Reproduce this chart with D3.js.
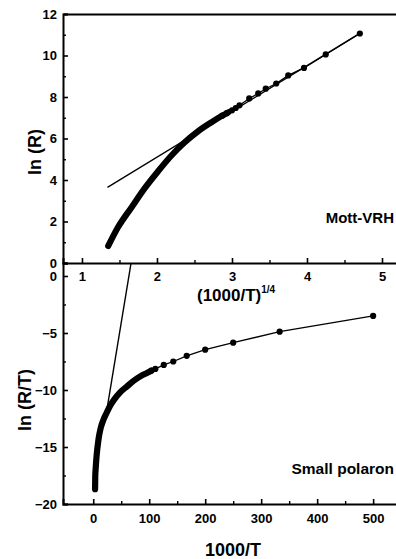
<!DOCTYPE html>
<html><head><meta charset="utf-8">
<script src="https://cdn.jsdelivr.net/npm/d3@7"></script>
<style>
body{margin:0;background:#fff;}
svg{display:block;font-family:"Liberation Sans",Arial,sans-serif;font-weight:bold;}
</style></head>
<body><svg id="c" width="396" height="559"></svg>
<script>
// ---- data ----
// top panel: ln(R) vs (1000/T)^(1/4)
const topDenseX = [1.35,1.48,1.66,1.84,2.01,2.19,2.37,2.54,2.72,2.87,2.95];
const topDenseY = [0.82,1.72,2.68,3.62,4.40,5.17,5.82,6.33,6.77,7.10,7.26];
const topDotX = [2.87,2.93,3.00,3.05,3.10,3.23,3.35,3.45,3.59,3.75,3.96,4.25,4.705];
const topDotY = [7.10,7.22,7.36,7.47,7.60,7.93,8.17,8.40,8.65,9.04,9.40,10.05,11.06];
const topFitX = [1.34,4.72];
const topFitY = [3.64,11.10];
// bottom panel: ln(R/T) vs 1000/T
const botDenseX = [3.3,3.6,4.5,6.0,9.5,13.5,18.4,24,30,38,48,60,72,84,96,104];
const botDenseY = [-18.7,-17.6,-16.8,-15.8,-14.3,-13.3,-12.6,-12.0,-11.4,-10.8,-10.2,-9.7,-9.2,-8.8,-8.5,-8.3];
const botDotX = [104,111,126,143,167,200,250,333,500];
const botDotY = [-8.3,-8.15,-7.8,-7.5,-7.0,-6.46,-5.85,-4.88,-3.5];
const botFitX = [22,70];
const botFitY = [-12.45,1.86];
// ticks
const topXTicks = [1,2,3,4,5];
const topXMinor = [1.5,2.5,3.5,4.5];
const topYTicks = [0,2,4,6,8,10,12];
const topYMinor = [1,3,5,7,9,11];
const botXTicks = [0,100,200,300,400,500];
const botXMinor = [50,150,250,350,450];
const botYTicks = [0,-5,-10,-15,-20];
const botYMinor = [-2.5,-7.5,-12.5,-17.5];

const svg = d3.select("#c");
const L = 63, R = 400, T1 = 14, MID = 263, B2 = 504;

const xTop = d3.scaleLinear().domain([0.747,5.24]).range([L,R]);
const yTop = d3.scaleLinear().domain([0,12]).range([MID,T1]);
const xBot = d3.scaleLinear().domain([-54,548]).range([L,R]);
const yBot = d3.scaleLinear().domain([-20,1.14]).range([B2,MID]);

svg.append("defs").call(d=>{
  d.append("clipPath").attr("id","cTop").append("rect").attr("x",L).attr("y",T1).attr("width",R-L).attr("height",MID-T1);
  d.append("clipPath").attr("id","cBot").append("rect").attr("x",L).attr("y",MID).attr("width",R-L).attr("height",B2-MID);
});

function axisStyle(g){
  g.select(".domain").attr("stroke","#000").attr("stroke-width",2);
  g.selectAll(".tick line").attr("stroke","#000").attr("stroke-width",1.6);
  g.selectAll(".tick text").attr("fill","#000").attr("font-size",13).attr("font-weight","bold")
   .attr("font-family","'Liberation Sans',Arial,sans-serif");
}
function minor(g){
  g.select(".domain").remove();
  g.selectAll(".tick line").attr("stroke","#000").attr("stroke-width",1.4);
}

// top panel axes
svg.append("g").attr("transform",`translate(0,${MID})`)
  .call(d3.axisBottom(xTop).tickValues(topXTicks).tickSize(-5).tickPadding(9).tickFormat(d3.format("d"))).call(axisStyle);
svg.append("g").attr("transform",`translate(0,${MID})`)
  .call(d3.axisBottom(xTop).tickValues(topXMinor).tickSize(-3).tickFormat("")).call(minor);
svg.append("g").attr("transform",`translate(${L},0)`)
  .call(d3.axisLeft(yTop).tickValues(topYTicks).tickSize(-5).tickPadding(6)).call(axisStyle);
svg.append("g").attr("transform",`translate(${L},0)`)
  .call(d3.axisLeft(yTop).tickValues(topYMinor).tickSize(-3).tickFormat("")).call(minor);
svg.append("g").attr("transform",`translate(0,${T1})`)
  .call(d3.axisTop(xTop).tickValues([]).tickSizeOuter(0)).call(axisStyle);

// bottom panel axes
svg.append("g").attr("transform",`translate(0,${B2})`)
  .call(d3.axisBottom(xBot).tickValues(botXTicks).tickSize(-5).tickPadding(10)).call(axisStyle);
svg.append("g").attr("transform",`translate(0,${B2})`)
  .call(d3.axisBottom(xBot).tickValues(botXMinor).tickSize(-3).tickFormat("")).call(minor);
svg.append("g").attr("transform",`translate(${L},0)`)
  .call(d3.axisLeft(yBot).tickValues(botYTicks).tickSize(-5).tickPadding(6)).call(axisStyle);
svg.append("g").attr("transform",`translate(${L},0)`)
  .call(d3.axisLeft(yBot).tickValues(botYMinor).tickSize(-3).tickFormat("")).call(minor);

// marks
function panel(clip, xs, ys, denseX, denseY, dotX, dotY, fitX, fitY){
  const g = svg.append("g").attr("clip-path",`url(#${clip})`);
  const line = d3.line().x(d=>xs(d[0])).y(d=>ys(d[1]));
  g.append("path").datum(fitX.map((v,i)=>[v,fitY[i]])).attr("d",line)
    .attr("fill","none").attr("stroke","#000").attr("stroke-width",1.4);
  g.append("path").datum(dotX.map((v,i)=>[v,dotY[i]])).attr("d",line)
    .attr("fill","none").attr("stroke","#000").attr("stroke-width",1.3);
  g.append("path").datum(denseX.map((v,i)=>[v,denseY[i]])).attr("d",line.curve(d3.curveMonotoneX))
    .attr("fill","none").attr("stroke","#000").attr("stroke-width",6.2)
    .attr("stroke-linecap","round").attr("stroke-linejoin","round");
  g.selectAll("circle.d").data(dotX.map((v,i)=>[v,dotY[i]])).join("circle")
    .attr("cx",d=>xs(d[0])).attr("cy",d=>ys(d[1])).attr("r",3.1).attr("fill","#000");
}
panel("cTop", xTop, yTop, topDenseX, topDenseY, topDotX, topDotY, topFitX, topFitY);
panel("cBot", xBot, yBot, botDenseX, botDenseY, botDotX, botDotY, botFitX, botFitY);

// labels
svg.append("text").attr("transform","translate(35,152) rotate(-90)").attr("text-anchor","middle")
  .attr("dy","0.35em").attr("font-size",18).text("ln (R)");
svg.append("text").attr("transform","translate(25,400) rotate(-90)").attr("text-anchor","middle")
  .attr("dy","0.35em").attr("font-size",18).text("ln (R/T)");
const xl = svg.append("text").attr("x",197).attr("y",301).attr("font-size",17);
xl.append("tspan").text("(1000/T)");
xl.append("tspan").attr("font-size",10).attr("dy",-8).text("1/4");
svg.append("text").attr("x",233).attr("y",556).attr("text-anchor","middle").attr("font-size",18).text("1000/T");
svg.append("text").attr("x",394).attr("y",223).attr("text-anchor","end").attr("font-size",15).text("Mott-VRH");
svg.append("text").attr("x",394).attr("y",474).attr("text-anchor","end").attr("font-size",15.5).text("Small polaron");
</script></body></html>
